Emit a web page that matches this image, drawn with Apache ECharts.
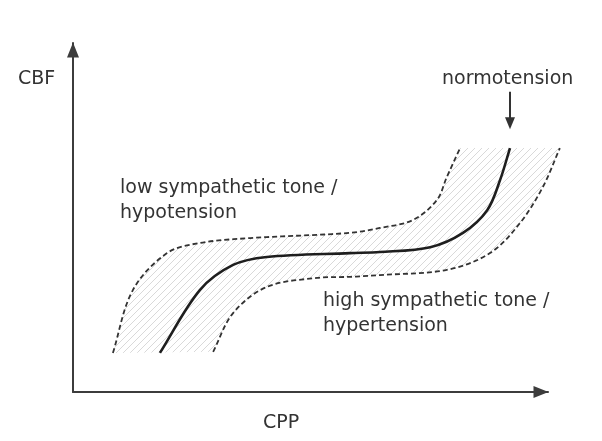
<!DOCTYPE html>
<html>
<head>
<meta charset="utf-8">
<script src="https://cdn.jsdelivr.net/npm/echarts@6/dist/echarts.min.js"></script>
<style>
html,body{margin:0;padding:0;background:#fff;}
#chart{width:602px;height:441px;}
</style>
</head>
<body>
<div id="chart"></div>
<script>
// ---- data (axis units 0..100, no numeric ticks on the original) ----
const normoX = [18.3, 26.7, 33.7, 40.8, 58.3, 64.6, 75.2, 82.1, 87.2, 89.9, 92.0];
const normoY = [11.2, 29.2, 36.4, 38.7, 39.8, 40.1, 41.5, 45.6, 52.1, 60.7, 69.9];

const lowX = [8.4, 12.6, 19.8, 26.7, 37.3, 58.3, 64.6, 71.6, 76.6, 78.7, 81.5];
const lowY = [11.2, 29.2, 39.8, 42.7, 44.1, 45.6, 47.0, 49.3, 55.0, 61.6, 69.9];

const highX = [29.5, 33.7, 40.8, 51.4, 58.3, 64.6, 78.7, 87.8, 94.1, 98.9, 102.5];
const highY = [11.5, 22.6, 30.1, 32.7, 33.0, 33.5, 35.0, 39.8, 48.4, 58.7, 69.9];

const arrowX = [92.0, 92.0];
const arrowY = [86.0, 77.0];

const yAxisName = 'CBF';
const xAxisName = 'CPP';
const normoLabel = 'normotension';
const lowLabel = ['low sympathetic tone /', 'hypotension'];
const highLabel = ['high sympathetic tone /', 'hypertension'];

const zip = (xs, ys) => xs.map((x, i) => [x, ys[i]]);
const normo = zip(normoX, normoY);
const low = zip(lowX, lowY);
const high = zip(highX, highY);

// smooth path through pixel points (tangent = direction of neighbours, handle = segment/3)
function unit(a, b) {
  const dx = b[0] - a[0], dy = b[1] - a[1];
  const l = Math.hypot(dx, dy) || 1;
  return [dx / l, dy / l];
}
function smoothPath(pts, startWithMove) {
  const n = pts.length;
  const tan = pts.map((p, i) => unit(pts[Math.max(0, i - 1)], pts[Math.min(n - 1, i + 1)]));
  let d = (startWithMove ? 'M' : 'L') + pts[0][0].toFixed(2) + ' ' + pts[0][1].toFixed(2);
  for (let i = 0; i < n - 1; i++) {
    const a = pts[i], b = pts[i + 1];
    const len = Math.hypot(b[0] - a[0], b[1] - a[1]) / 3;
    const c1 = [a[0] + tan[i][0] * len, a[1] + tan[i][1] * len];
    const c2 = [b[0] - tan[i + 1][0] * len, b[1] - tan[i + 1][1] * len];
    d += ' C' + c1[0].toFixed(2) + ' ' + c1[1].toFixed(2) + ' ' + c2[0].toFixed(2) + ' ' +
      c2[1].toFixed(2) + ' ' + b[0].toFixed(2) + ' ' + b[1].toFixed(2);
  }
  return d;
}

// hatch pattern
const pc = document.createElement('canvas');
pc.width = 7; pc.height = 7;
const g = pc.getContext('2d');
g.strokeStyle = '#d9d9d9';
g.lineWidth = 1;
g.beginPath();
g.moveTo(-1, 8); g.lineTo(8, -1);
g.moveTo(-1, 1); g.lineTo(1, -1);
g.moveTo(6, 8); g.lineTo(8, 6);
g.stroke();

const chart = echarts.init(document.getElementById('chart'), null, {renderer: 'canvas'});
const txt = '#333333';
const font = 'DejaVu Sans';
const fs = 19;

function textEl(str, x, y) {
  return {type: 'text', x: x, y: y, silent: true,
    style: {text: str, fill: txt, font: fs + 'px "' + font + '"', textVerticalAlign: 'middle', verticalAlign: 'middle'}};
}

const axisCommon = {
  type: 'value', min: 0, max: 100,
  axisTick: {show: false}, axisLabel: {show: false}, splitLine: {show: false},
  axisLine: {show: true, symbol: ['none', 'triangle'], symbolSize: [12, 15], symbolOffset: [0, -7],
    lineStyle: {color: '#3c3c3c', width: 2}}
};

function curveSeries(points, style, z) {
  return {
    type: 'custom', clip: false, silent: true, z: z,
    data: points,
    renderItem: function (params, api) {
      if (params.dataIndex !== 0) return null;
      const px = points.map(p => api.coord(p));
      return {type: 'path', shape: {pathData: smoothPath(px, true)},
        style: Object.assign({fill: null}, style)};
    }
  };
}

chart.setOption({
  animation: false,
  backgroundColor: '#ffffff',
  grid: {left: 73, right: 54, top: 43, bottom: 49, containLabel: false},
  xAxis: Object.assign({}, axisCommon),
  yAxis: Object.assign({}, axisCommon),
  series: [
    {
      type: 'custom', clip: false, silent: true, z: 1,
      data: [[0, 0]],
      renderItem: function (params, api) {
        const a = low.map(p => api.coord(p));
        const b = high.slice().reverse().map(p => api.coord(p));
        const d = smoothPath(a, true) + ' ' + smoothPath(b, false) + ' Z';
        return {type: 'path', shape: {pathData: d},
          style: {fill: {image: pc, repeat: 'repeat'}, stroke: null}};
      }
    },
    curveSeries(low, {stroke: '#333', lineWidth: 1.8, lineDash: [5, 3]}, 3),
    curveSeries(high, {stroke: '#333', lineWidth: 1.8, lineDash: [5, 3]}, 3),
    curveSeries(normo, {stroke: '#1e1e1e', lineWidth: 2.6}, 4),
    {
      type: 'line', data: [], silent: true,
      markLine: {
        silent: true, symbol: ['none', 'triangle'], symbolSize: [10, 12],
        label: {show: false},
        lineStyle: {color: '#333', width: 2, type: 'solid'},
        data: [[{coord: [arrowX[0], arrowY[0]]}, {coord: [arrowX[1], arrowY[1]]}]]
      }
    }
  ],
  graphic: [
    textEl(yAxisName, 18, 79),
    textEl(xAxisName, 263, 423),
    textEl(normoLabel, 442, 79),
    textEl(lowLabel[0], 120, 188),
    textEl(lowLabel[1], 120, 213),
    textEl(highLabel[0], 323, 301),
    textEl(highLabel[1], 323, 326)
  ]
});
</script>
</body>
</html>
